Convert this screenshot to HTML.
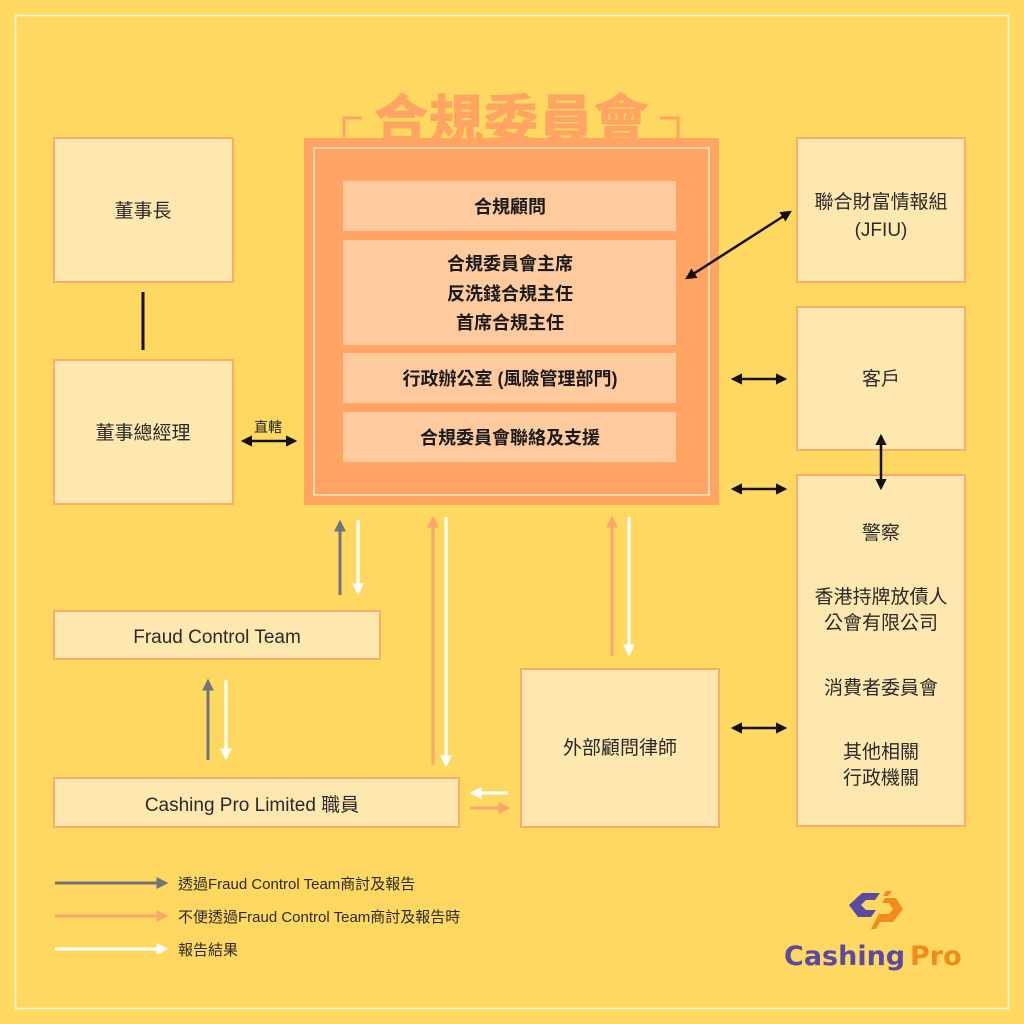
<!DOCTYPE html>
<html><head><meta charset="utf-8"><style>
html,body{margin:0;padding:0;}
body{width:1024px;height:1024px;background:#FFD862;overflow:hidden;}
svg{display:block}
text{font-family:"Liberation Sans","Noto Sans CJK TC",sans-serif;}
</style></head><body>
<svg width="1024" height="1024" viewBox="0 0 1024 1024" xmlns="http://www.w3.org/2000/svg">
<defs>
<marker id="kb" viewBox="0 0 10 10" refX="8" refY="5" markerWidth="4.5" markerHeight="4.5" orient="auto-start-reverse"><path d="M0,0 L10,5 L0,10 z" fill="#111"/></marker>
<marker id="kg" viewBox="0 0 10 10" refX="8" refY="5" markerWidth="4" markerHeight="4" orient="auto"><path d="M0,0 L10,5 L0,10 z" fill="#6F7578"/></marker>
<marker id="ko" viewBox="0 0 10 10" refX="8" refY="5" markerWidth="4" markerHeight="4" orient="auto"><path d="M0,0 L10,5 L0,10 z" fill="#FBA66A"/></marker>
<marker id="kw" viewBox="0 0 10 10" refX="8" refY="5" markerWidth="4" markerHeight="4" orient="auto"><path d="M0,0 L10,5 L0,10 z" fill="#FFFFFF"/></marker>
</defs>
<rect x="15.5" y="15.5" width="993" height="993" fill="none" stroke="#FFF6DC" stroke-width="1.5"/>

<g fill="#FFE8B0" stroke="#F9AD6A" stroke-width="2">
<rect x="54" y="138" width="179" height="144"/>
<rect x="54" y="360" width="179" height="144"/>
<rect x="797" y="138" width="168" height="144"/>
<rect x="797" y="307" width="168" height="143"/>
<rect x="797" y="475" width="168" height="351"/>
<rect x="54" y="611" width="326" height="48"/>
<rect x="54" y="778" width="405" height="49"/>
<rect x="521" y="669" width="198" height="158"/>
</g>

<!-- title -->
<g stroke="#FFA462" stroke-width="3" fill="none">
<path d="M344,138 V118 H362"/>
<path d="M678,138 V118 H660"/>
</g>
<text x="511" y="140" text-anchor="middle" font-size="55" font-weight="900" fill="#FFA462" style="font-family:'Noto Sans CJK TC',sans-serif;font-weight:900">合規委員會</text>

<!-- central -->
<rect x="304" y="138" width="415" height="367" fill="#FFA462"/>
<rect x="314" y="148" width="395" height="347" fill="none" stroke="#FFE9C8" stroke-width="1.5"/>
<g fill="#FFCB9E">
<rect x="343" y="181" width="333" height="50"/>
<rect x="343" y="240" width="333" height="105"/>
<rect x="343" y="353" width="333" height="50"/>
<rect x="343" y="412" width="333" height="50"/>
</g>

<g font-size="18" font-weight="bold" fill="#1a1a1a" text-anchor="middle">
<text x="510" y="213">合規顧問</text>
<text x="510" y="270">合規委員會主席</text>
<text x="510" y="300">反洗錢合規主任</text>
<text x="510" y="329">首席合規主任</text>
<text x="510" y="385">行政辦公室 (風險管理部門)</text>
<text x="510" y="444">合規委員會聯絡及支援</text>
</g>

<g font-size="19" fill="#2a2a2a" text-anchor="middle">
<text x="143" y="217">董事長</text>
<text x="143" y="439">董事總經理</text>
<text x="881" y="208">聯合財富情報組</text>
<text x="881" y="236">(JFIU)</text>
<text x="881" y="385">客戶</text>
<text x="881" y="539">警察</text>
<text x="881" y="603">香港持牌放債人</text>
<text x="881" y="629">公會有限公司</text>
<text x="881" y="694">消費者委員會</text>
<text x="881" y="758">其他相關</text>
<text x="881" y="784">行政機關</text>
<text x="620" y="754">外部顧問律師</text>
<text x="217" y="643">Fraud Control Team</text>
<text x="252" y="811">Cashing Pro Limited 職員</text>
</g>
<text x="268" y="432" font-size="14" fill="#222" text-anchor="middle">直轄</text>

<!-- black connectors -->
<line x1="143" y1="292" x2="143" y2="350" stroke="#111" stroke-width="3"/>
<g stroke="#111" stroke-width="2.5" marker-start="url(#kb)" marker-end="url(#kb)">
<line x1="243" y1="441" x2="295" y2="441"/>
<line x1="733" y1="379" x2="785" y2="379"/>
<line x1="733" y1="489" x2="785" y2="489"/>
<line x1="733" y1="728" x2="785" y2="728"/>
<line x1="881" y1="436" x2="881" y2="488"/>
<line x1="687" y1="278" x2="790" y2="212"/>
</g>

<!-- colored arrows -->
<g stroke-width="3">
<line x1="340" y1="595" x2="340" y2="522" stroke="#6F7578" marker-end="url(#kg)"/>
<line x1="358" y1="520" x2="358" y2="593" stroke="#fff" marker-end="url(#kw)"/>
<line x1="208" y1="760" x2="208" y2="681" stroke="#6F7578" marker-end="url(#kg)"/>
<line x1="226" y1="680" x2="226" y2="758" stroke="#fff" marker-end="url(#kw)"/>
<line x1="433" y1="765" x2="433" y2="518" stroke="#FBA66A" marker-end="url(#ko)"/>
<line x1="446" y1="517" x2="446" y2="765" stroke="#fff" marker-end="url(#kw)"/>
<line x1="612" y1="656" x2="612" y2="518" stroke="#FBA66A" marker-end="url(#ko)"/>
<line x1="629" y1="517" x2="629" y2="654" stroke="#fff" marker-end="url(#kw)"/>
<line x1="508" y1="793" x2="472" y2="793" stroke="#fff" marker-end="url(#kw)"/>
<line x1="470" y1="808" x2="508" y2="808" stroke="#FBA66A" marker-end="url(#ko)"/>
<line x1="55" y1="883" x2="166" y2="883" stroke="#6F7578" marker-end="url(#kg)"/>
<line x1="55" y1="916" x2="166" y2="916" stroke="#FBA66A" marker-end="url(#ko)"/>
<line x1="55" y1="949" x2="166" y2="949" stroke="#fff" marker-end="url(#kw)"/>
</g>
<g font-size="15" fill="#2a2a2a">
<text x="178" y="889">透過Fraud Control Team商討及報告</text>
<text x="178" y="922">不便透過Fraud Control Team商討及報告時</text>
<text x="178" y="955">報告結果</text>
</g>

<!-- logo -->
<path d="M862,893 L880,893 L875,900 L866,900 L861,905 L866,910 L876,910 L871,917 L858,917 L849,905 Z" fill="#5A4BA0"/>
<path d="M885,898 L896,898 L903,909 L893,922 L880,922 L876,929 L871,929 L879,914 L889,914 L893,909 L889,903 L882,903 Z" fill="#F28A1C"/>
<path d="M886,891 L892,891 L888,896 L883,896 Z" fill="#F28A1C"/>
<text x="784" y="965" font-size="27" font-weight="bold" fill="#5A4BA0" style="font-family:'DejaVu Sans',sans-serif">Cashing</text>
<text x="910" y="965" font-size="27" font-weight="bold" fill="#F28A1C" style="font-family:'DejaVu Sans',sans-serif">Pro</text>
</svg>
</body></html>
